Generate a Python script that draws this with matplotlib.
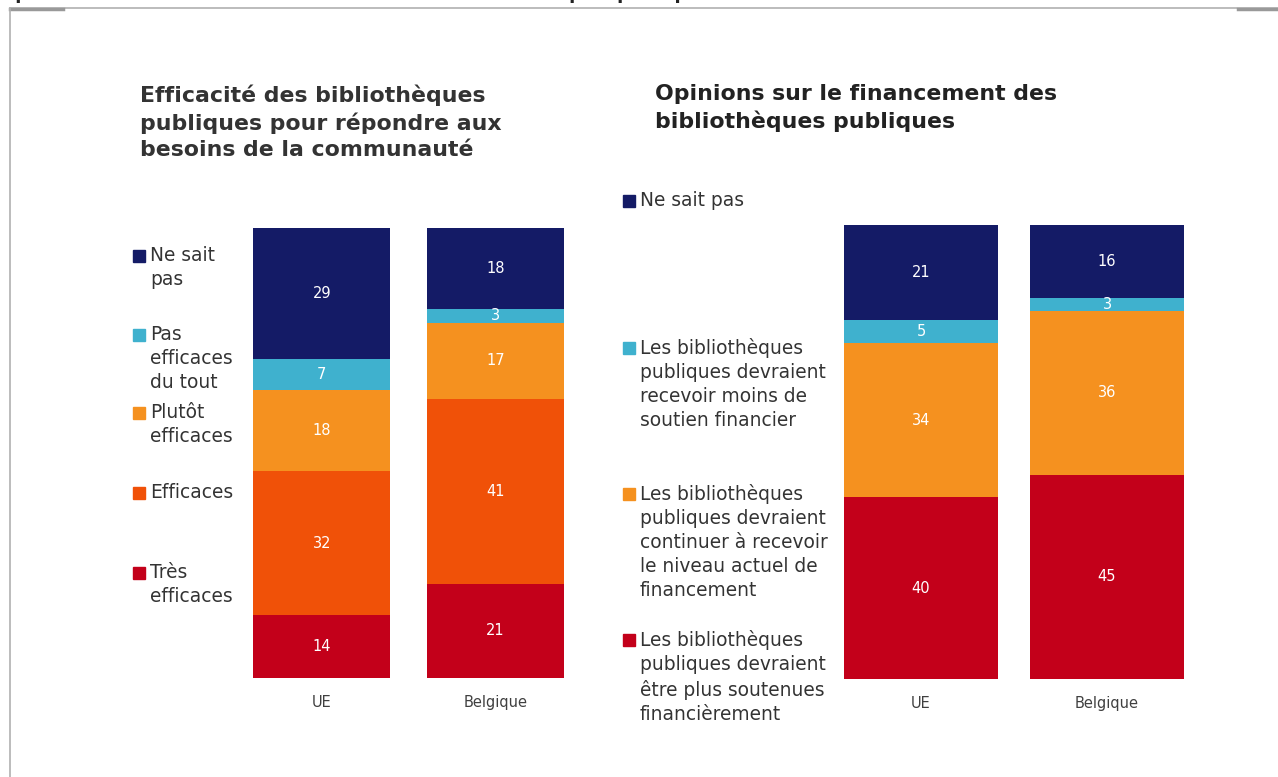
import matplotlib.pyplot as plt
from matplotlib.patches import Rectangle
from matplotlib.lines import Line2D

W, H = 1278, 777

pays = ['UE', 'Belgique']

# efficacité : du bas vers le haut
eff_labels = ['Très\nefficaces', 'Efficaces', 'Plutôt\nefficaces',
              'Pas\nefficaces\ndu tout', 'Ne sait\npas']
eff_ue = [14, 32, 18, 7, 29]
eff_be = [21, 41, 17, 3, 18]
eff_colors = ['#C3001A', '#F05108', '#F5911F', '#3FB1CE', '#141B66']

# financement : du bas vers le haut
fin_labels = ['Les bibliothèques\npubliques devraient\nêtre plus soutenues\nfinancièrement',
              'Les bibliothèques\npubliques devraient\ncontinuer à recevoir\nle niveau actuel de\nfinancement',
              'Les bibliothèques\npubliques devraient\nrecevoir moins de\nsoutien financier',
              'Ne sait pas']
fin_ue = [40, 34, 5, 21]
fin_be = [45, 36, 3, 16]
fin_colors = ['#C3001A', '#F5911F', '#3FB1CE', '#141B66']

TXT = '#333333'


def px(x, y):
    return x / W, 1 - y / H


def box(x0, y0, x1, y1):
    return [x0 / W, 1 - y1 / H, (x1 - x0) / W, (y1 - y0) / H]


fig = plt.figure(figsize=(W / 100, H / 100), dpi=100)

# cadre
fig.add_artist(Line2D([10 / W, 1], [1 - 8 / H] * 2, color='#b0b0b0', lw=1.2))
fig.add_artist(Line2D([10 / W, 63 / W], [1 - 8.5 / H] * 2, color='#999999', lw=2.5))
fig.add_artist(Line2D([1238 / W, 1], [1 - 8.5 / H] * 2, color='#999999', lw=2.5))
fig.add_artist(Line2D([10 / W] * 2, [0, 1 - 8 / H], color='#b0b0b0', lw=1.2))
fig.text(0, 1 + 1 / H, "Opinions sur l'efficacité et le financement des bibliothèques publiques",
         fontsize=13, fontweight='bold', color='#222222', va='baseline')


def stacked(ax, vals_ue, vals_be, colors, width):
    bottoms = [0, 0]
    for i, c in enumerate(colors):
        vals = [vals_ue[i], vals_be[i]]
        bars = ax.bar([0, 1], vals, width, bottom=bottoms, color=c)
        for b, v in zip(bars, vals):
            ax.text(b.get_x() + b.get_width() / 2, b.get_y() + v / 2, str(v),
                    ha='center', va='center', color='white', fontsize=10.5)
        bottoms = [bottoms[0] + vals[0], bottoms[1] + vals[1]]
    ax.set_xlim(-0.5, 1.5)
    ax.set_ylim(0, 100)
    ax.set_xticks([0, 1])
    ax.set_xticklabels(pays, fontsize=10.5, color='#404040')
    ax.tick_params(axis='x', length=0, pad=12)
    ax.set_yticks([])
    for s in ax.spines.values():
        s.set_visible(False)


def legend(x, ys, labels, colors):
    for y, lab, c in zip(ys, labels, colors):
        fig.add_artist(Rectangle(px(x, y + 6), 12 / W, 12 / H, color=c,
                                 transform=fig.transFigure))
        fig.text(*px(x + 17, y - 10), lab, fontsize=13.4, color=TXT,
                 va='top', ha='left', linespacing=1.34)


# graphique de gauche
ax1 = fig.add_axes(box(235, 228, 582, 678))
stacked(ax1, eff_ue, eff_be, eff_colors, 0.79)
fig.text(*px(140, 84), 'Efficacité des bibliothèques\npubliques pour répondre aux\nbesoins de la communauté',
         fontsize=15.8, fontweight='bold', color='#333333', va='top', linespacing=1.4)
legend(133, [573, 493, 413, 335, 256], eff_labels, eff_colors)

# graphique de droite
ax2 = fig.add_axes(box(828, 225, 1200, 679))
stacked(ax2, fin_ue, fin_be, fin_colors, 0.83)
fig.text(*px(655, 84), 'Opinions sur le financement des\nbibliothèques publiques',
         fontsize=15.8, fontweight='bold', color='#222222', va='top', linespacing=1.4)
legend(623, [640, 494, 348, 201], fin_labels, fin_colors)

fig.savefig('out.png', dpi=100)
